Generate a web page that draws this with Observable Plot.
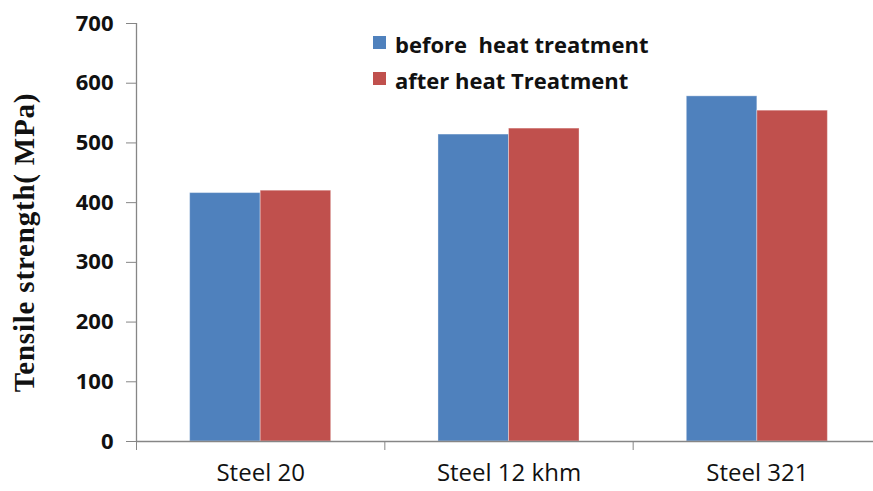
<!DOCTYPE html>
<html>
<head>
<meta charset="utf-8">
<script src="https://cdn.jsdelivr.net/npm/d3@7"></script>
<script src="https://cdn.jsdelivr.net/npm/@observablehq/plot@0.6"></script>
<style>
  html, body { margin: 0; padding: 0; background: #fff; }
  #wrap { position: relative; width: 873px; height: 491px; overflow: hidden; }
  .leg { position: absolute; left: 373px; font: bold 22px "Open Sans", sans-serif; color: #111; line-height: 22px; white-space: pre; }
  .leg .sw { position: absolute; left: 0; width: 13px; height: 13px; }
  .leg .tx { position: absolute; left: 22px; top: 0; }
</style>
</head>
<body>
<div id="wrap"></div>
<script>
const categories = ["Steel 20", "Steel 12 khm", "Steel 321"];
const beforeValues = [416, 514, 578];
const afterValues = [420, 524, 554];
const seriesNames = ["before  heat treatment", "after heat Treatment"];
const seriesColors = ["#4F81BD", "#C0504D"];
const yTicks = [0, 100, 200, 300, 400, 500, 600, 700];
const yTitle = "Tensile strength( MPa)";

const rows = categories.flatMap((c, i) => [
  {i, cat: c, s: 0, v: beforeValues[i]},
  {i, cat: c, s: 1, v: afterValues[i]}
]);
const barW = 0.284;
const axisGray = "#868686";

const chart = Plot.plot({
  width: 873,
  height: 491,
  marginLeft: 136,
  marginRight: 0,
  marginTop: 23,
  marginBottom: 50,
  style: {fontFamily: "'Open Sans', sans-serif", background: "#fff", color: "#111"},
  x: {type: "linear", domain: [0, 3], range: [136, 881]},
  y: {domain: [0, 700], range: [441, 23]},
  marks: [
    Plot.rectY(rows, {
      x1: d => d.i + 0.5 - barW + d.s * barW,
      x2: d => d.i + 0.5 + d.s * barW,
      y: "v",
      fill: d => seriesColors[d.s],
      stroke: "#ffffff",
      strokeOpacity: 0.35,
      strokeWidth: 1
    }),
    Plot.ruleX([0], {stroke: axisGray, strokeWidth: 1.3}),
    Plot.ruleY([0], {stroke: axisGray, strokeWidth: 1.3}),
    Plot.axisY({
      ticks: yTicks,
      tickSize: 10,
      tickPadding: 13,
      label: null,
      stroke: axisGray,
      strokeOpacity: 1,
      fontSize: 22,
      fontWeight: "bold",
      fill: "#111"
    }),
    Plot.axisX({
      ticks: [0, 1, 2, 3],
      tickSize: 9,
      tickFormat: () => "",
      label: null,
      stroke: axisGray,
      strokeOpacity: 1
    }),
    Plot.axisX({
      ticks: categories.map((c, i) => i + 0.5),
      tickSize: 0,
      tickPadding: 22,
      tickFormat: t => categories[Math.round(t - 0.5)],
      label: null,
      fontSize: 24,
      fill: "#111"
    }),
    Plot.text([yTitle], {
      frameAnchor: "left",
      dx: -112,
      dy: 10,
      rotate: -90,
      fontSize: 29,
      fontWeight: "bold",
      fontFamily: "'Liberation Serif', 'Times New Roman', serif",
      fill: "#111",
      lineAnchor: "middle",
      textAnchor: "middle"
    })
  ]
});

d3.select(chart).selectAll("text")
  .filter(function() { return this.textContent === yTitle; })
  .style("letter-spacing", "0.8px");

const wrap = document.getElementById("wrap");
wrap.appendChild(chart);

const legendTops = [33, 69];
seriesNames.forEach((name, k) => {
  const row = document.createElement("div");
  row.className = "leg";
  row.style.top = legendTops[k] + "px";
  const sw = document.createElement("div");
  sw.className = "sw";
  sw.style.background = seriesColors[k];
  sw.style.top = "3px";
  const tx = document.createElement("div");
  tx.className = "tx";
  tx.textContent = name;
  row.appendChild(sw);
  row.appendChild(tx);
  wrap.appendChild(row);
});
</script>
</body>
</html>
